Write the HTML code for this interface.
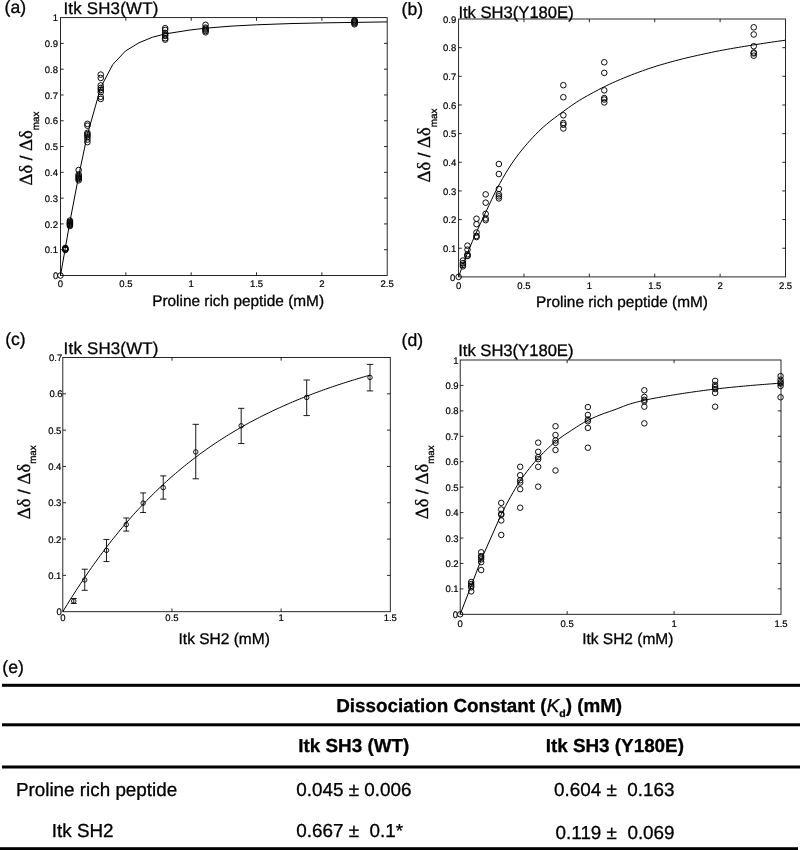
<!DOCTYPE html>
<html><head><meta charset="utf-8"><title>Figure</title>
<style>html,body{margin:0;padding:0;background:#fff}svg{display:block;transform:translateZ(0);will-change:transform}text{font-family:"Liberation Sans", sans-serif}</style></head><body>
<svg width="800" height="850" viewBox="0 0 800 850" text-rendering="geometricPrecision">
<rect width="800" height="850" fill="#fff"/>
<rect x="60.5" y="17.6" width="326.7" height="257.9" fill="none" stroke="#111" stroke-width="0.9"/>
<path d="M125.84 275.5v-3.2M125.84 17.6v3.2M191.18 275.5v-3.2M191.18 17.6v3.2M256.52 275.5v-3.2M256.52 17.6v3.2M321.86 275.5v-3.2M321.86 17.6v3.2M60.5 249.71h3.2M387.2 249.71h-3.2M60.5 223.92h3.2M387.2 223.92h-3.2M60.5 198.13h3.2M387.2 198.13h-3.2M60.5 172.34h3.2M387.2 172.34h-3.2M60.5 146.55h3.2M387.2 146.55h-3.2M60.5 120.76h3.2M387.2 120.76h-3.2M60.5 94.97h3.2M387.2 94.97h-3.2M60.5 69.18h3.2M387.2 69.18h-3.2M60.5 43.39h3.2M387.2 43.39h-3.2" fill="none" stroke="#111" stroke-width="0.9"/>
<g font-family='"Liberation Sans", sans-serif' font-size="9.5" fill="#000" stroke="#000" stroke-width="0.2">
<text x="60.5" y="287.1" text-anchor="middle">0</text>
<text x="125.84" y="287.1" text-anchor="middle">0.5</text>
<text x="191.18" y="287.1" text-anchor="middle">1</text>
<text x="256.52" y="287.1" text-anchor="middle">1.5</text>
<text x="321.86" y="287.1" text-anchor="middle">2</text>
<text x="387.2" y="287.1" text-anchor="middle">2.5</text>
<text x="58.3" y="279.1" text-anchor="end">0</text>
<text x="58" y="253.31" text-anchor="end">0.1</text>
<text x="58" y="227.52" text-anchor="end">0.2</text>
<text x="58" y="201.73" text-anchor="end">0.3</text>
<text x="58" y="175.94" text-anchor="end">0.4</text>
<text x="58" y="150.15" text-anchor="end">0.5</text>
<text x="58" y="124.36" text-anchor="end">0.6</text>
<text x="58" y="98.57" text-anchor="end">0.7</text>
<text x="58" y="72.78" text-anchor="end">0.8</text>
<text x="58" y="46.99" text-anchor="end">0.9</text>
<text x="58" y="21.2" text-anchor="end">1</text>
</g>
<path d="M60.5 275.5 L65.2 248.8 L69.7 222.8 L78.6 176.4 L87.3 135 L100.75 87.3 L112.75 64.5 L125.5 51 L139 42.75 L152.5 37.2 L165.25 33.9 L190 30 L205.6 28.2 L230 26.2 L256.2 24.8 L290 23.6 L321.9 22.9 L354.7 22.4 L387.2 21.9" fill="none" stroke="#000" stroke-width="1" stroke-linejoin="round"/>
<g fill="none" stroke="#000" stroke-width="0.95">
<circle cx="60.5" cy="275.5" r="2.8"/>
<circle cx="65.34" cy="249.97" r="2.8"/>
<circle cx="65.34" cy="249.45" r="2.8"/>
<circle cx="65.34" cy="248.94" r="2.8"/>
<circle cx="65.34" cy="248.42" r="2.8"/>
<circle cx="65.34" cy="247.9" r="2.8"/>
<circle cx="69.91" cy="225.98" r="2.8"/>
<circle cx="69.91" cy="224.95" r="2.8"/>
<circle cx="69.91" cy="224.18" r="2.8"/>
<circle cx="69.91" cy="223.4" r="2.8"/>
<circle cx="69.91" cy="222.63" r="2.8"/>
<circle cx="69.91" cy="221.86" r="2.8"/>
<circle cx="69.91" cy="220.57" r="2.8"/>
<circle cx="78.66" cy="180.33" r="2.8"/>
<circle cx="78.66" cy="179.05" r="2.8"/>
<circle cx="78.66" cy="178.01" r="2.8"/>
<circle cx="78.66" cy="176.98" r="2.8"/>
<circle cx="78.66" cy="175.95" r="2.8"/>
<circle cx="78.66" cy="174.4" r="2.8"/>
<circle cx="78.66" cy="170.02" r="2.8"/>
<circle cx="87.42" cy="142.17" r="2.8"/>
<circle cx="87.42" cy="139.59" r="2.8"/>
<circle cx="87.42" cy="137.27" r="2.8"/>
<circle cx="87.42" cy="135.46" r="2.8"/>
<circle cx="87.42" cy="134.17" r="2.8"/>
<circle cx="87.42" cy="132.88" r="2.8"/>
<circle cx="87.42" cy="125.66" r="2.8"/>
<circle cx="87.42" cy="123.85" r="2.8"/>
<circle cx="100.75" cy="98.94" r="2.8"/>
<circle cx="100.75" cy="96.78" r="2.8"/>
<circle cx="100.75" cy="92.13" r="2.8"/>
<circle cx="100.75" cy="89.94" r="2.8"/>
<circle cx="100.75" cy="88.01" r="2.8"/>
<circle cx="100.75" cy="85.43" r="2.8"/>
<circle cx="100.75" cy="77.95" r="2.8"/>
<circle cx="100.75" cy="74.6" r="2.8"/>
<circle cx="165.17" cy="39.65" r="2.8"/>
<circle cx="165.17" cy="38.23" r="2.8"/>
<circle cx="165.17" cy="35.91" r="2.8"/>
<circle cx="165.17" cy="34.36" r="2.8"/>
<circle cx="165.17" cy="32.92" r="2.8"/>
<circle cx="165.17" cy="29.98" r="2.8"/>
<circle cx="165.17" cy="28.17" r="2.8"/>
<circle cx="205.55" cy="32.3" r="2.8"/>
<circle cx="205.55" cy="31.01" r="2.8"/>
<circle cx="205.55" cy="29.72" r="2.8"/>
<circle cx="205.55" cy="28.69" r="2.8"/>
<circle cx="205.55" cy="27.66" r="2.8"/>
<circle cx="205.55" cy="24.82" r="2.8"/>
<circle cx="354.53" cy="24.31" r="2.8"/>
<circle cx="354.53" cy="23.27" r="2.8"/>
<circle cx="354.53" cy="22.5" r="2.8"/>
<circle cx="354.53" cy="21.73" r="2.8"/>
<circle cx="354.53" cy="20.95" r="2.8"/>
<circle cx="354.53" cy="20.18" r="2.8"/>
</g>
<text x="4.6" y="13.2" font-family='"Liberation Sans", sans-serif' font-size="17.6" font-weight="normal" text-anchor="start" fill="#000" stroke="#000" stroke-width="0.3" stroke-linejoin="round" >(a)</text>
<text x="63.4" y="13.6" font-family='"Liberation Sans", sans-serif' font-size="16.9" font-weight="normal" text-anchor="start" fill="#000" stroke="#000" stroke-width="0.3" stroke-linejoin="round" letter-spacing="0.2">Itk SH3(WT)</text>
<text x="238.1" y="305.6" font-family='"Liberation Sans", sans-serif' font-size="15.4" font-weight="normal" text-anchor="middle" fill="#000" stroke="#000" stroke-width="0.3" stroke-linejoin="round" >Proline rich peptide (mM)</text>
<text transform="translate(32.4 148.6) rotate(-90)" text-anchor="middle" font-size="18.6" fill="#000" stroke="#000" stroke-width="0.3"><tspan font-family='"Liberation Serif", serif'>&#916;&#948;</tspan><tspan font-family='"Liberation Sans", sans-serif' font-size="16.740000000000002"> / </tspan><tspan font-family='"Liberation Serif", serif'>&#916;&#948;</tspan><tspan font-family='"Liberation Sans", sans-serif' font-size="9.8" dy="6.4">max</tspan></text>
<rect x="458.6" y="19" width="326.9" height="257.9" fill="none" stroke="#111" stroke-width="0.9"/>
<path d="M523.98 276.9v-3.2M523.98 19v3.2M589.36 276.9v-3.2M589.36 19v3.2M654.74 276.9v-3.2M654.74 19v3.2M720.12 276.9v-3.2M720.12 19v3.2M458.6 248.24h3.2M785.5 248.24h-3.2M458.6 219.59h3.2M785.5 219.59h-3.2M458.6 190.93h3.2M785.5 190.93h-3.2M458.6 162.28h3.2M785.5 162.28h-3.2M458.6 133.62h3.2M785.5 133.62h-3.2M458.6 104.97h3.2M785.5 104.97h-3.2M458.6 76.31h3.2M785.5 76.31h-3.2M458.6 47.66h3.2M785.5 47.66h-3.2" fill="none" stroke="#111" stroke-width="0.9"/>
<g font-family='"Liberation Sans", sans-serif' font-size="9.5" fill="#000" stroke="#000" stroke-width="0.2">
<text x="458.6" y="288.5" text-anchor="middle">0</text>
<text x="523.98" y="288.5" text-anchor="middle">0.5</text>
<text x="589.36" y="288.5" text-anchor="middle">1</text>
<text x="654.74" y="288.5" text-anchor="middle">1.5</text>
<text x="720.12" y="288.5" text-anchor="middle">2</text>
<text x="785.5" y="288.5" text-anchor="middle">2.5</text>
<text x="455.2" y="280.5" text-anchor="end">0</text>
<text x="456.2" y="251.84" text-anchor="end">0.1</text>
<text x="456.2" y="223.19" text-anchor="end">0.2</text>
<text x="456.2" y="194.53" text-anchor="end">0.3</text>
<text x="456.2" y="165.88" text-anchor="end">0.4</text>
<text x="456.2" y="137.22" text-anchor="end">0.5</text>
<text x="456.2" y="108.57" text-anchor="end">0.6</text>
<text x="456.2" y="79.91" text-anchor="end">0.7</text>
<text x="456.2" y="51.26" text-anchor="end">0.8</text>
<text x="456.2" y="22.6" text-anchor="end">0.9</text>
</g>
<path d="M458.6 276.9 L461.35 269.24 L464.09 261.84 L466.84 254.67 L469.59 247.94 L472.34 241.5 L475.08 235.27 L477.83 229.14 L480.58 223.16 L483.32 217.3 L486.07 211.49 L488.82 205.63 L491.56 199.78 L494.31 194.07 L497.06 188.59 L499.81 183.47 L502.55 178.55 L505.3 173.82 L508.05 169.3 L510.79 165.03 L513.54 161 L516.29 157.19 L519.04 153.56 L521.78 150.09 L524.53 146.76 L527.28 143.56 L530.02 140.45 L532.77 137.45 L535.52 134.56 L538.26 131.79 L541.01 129.16 L543.76 126.68 L546.51 124.32 L549.25 122.06 L552 119.89 L554.75 117.78 L557.49 115.72 L560.24 113.69 L562.99 111.68 L565.74 109.68 L568.48 107.71 L571.23 105.78 L573.98 103.9 L576.72 102.08 L579.47 100.33 L582.22 98.66 L584.96 97.08 L587.71 95.54 L590.46 94.05 L593.21 92.57 L595.95 91.08 L598.7 89.6 L601.45 88.15 L604.19 86.78 L606.94 85.47 L609.69 84.18 L612.44 82.92 L615.18 81.69 L617.93 80.48 L620.68 79.3 L623.42 78.15 L626.17 77.03 L628.92 75.93 L631.66 74.85 L634.41 73.8 L637.16 72.76 L639.91 71.75 L642.65 70.76 L645.4 69.79 L648.15 68.84 L650.89 67.92 L653.64 67.03 L656.39 66.16 L659.14 65.31 L661.88 64.49 L664.63 63.69 L667.38 62.91 L670.12 62.15 L672.87 61.4 L675.62 60.67 L678.36 59.95 L681.11 59.25 L683.86 58.56 L686.61 57.89 L689.35 57.25 L692.1 56.61 L694.85 55.99 L697.59 55.38 L700.34 54.77 L703.09 54.17 L705.84 53.57 L708.58 52.98 L711.33 52.39 L714.08 51.82 L716.82 51.27 L719.57 50.73 L722.32 50.22 L725.06 49.71 L727.81 49.21 L730.56 48.72 L733.31 48.24 L736.05 47.77 L738.8 47.31 L741.55 46.85 L744.29 46.4 L747.04 45.95 L749.79 45.51 L752.54 45.07 L755.28 44.64 L758.03 44.21 L760.78 43.79 L763.52 43.37 L766.27 42.95 L769.02 42.54 L771.76 42.14 L774.51 41.74 L777.26 41.35 L780.01 40.96 L782.75 40.58 L785.5 40.2" fill="none" stroke="#000" stroke-width="1" stroke-linejoin="round"/>
<g fill="none" stroke="#000" stroke-width="0.95">
<circle cx="458.6" cy="276.9" r="2.8"/>
<circle cx="462.92" cy="266.3" r="2.8"/>
<circle cx="462.92" cy="264.86" r="2.8"/>
<circle cx="462.92" cy="263.15" r="2.8"/>
<circle cx="462.92" cy="260.57" r="2.8"/>
<circle cx="467.49" cy="255.98" r="2.8"/>
<circle cx="467.49" cy="255.69" r="2.8"/>
<circle cx="467.49" cy="254.26" r="2.8"/>
<circle cx="467.49" cy="249.68" r="2.8"/>
<circle cx="467.49" cy="245.67" r="2.8"/>
<circle cx="476.51" cy="237.07" r="2.8"/>
<circle cx="476.51" cy="235.92" r="2.8"/>
<circle cx="476.51" cy="232.48" r="2.8"/>
<circle cx="476.51" cy="224.17" r="2.8"/>
<circle cx="476.51" cy="218.73" r="2.8"/>
<circle cx="485.67" cy="220.16" r="2.8"/>
<circle cx="485.67" cy="218.44" r="2.8"/>
<circle cx="485.67" cy="213.86" r="2.8"/>
<circle cx="485.67" cy="202.68" r="2.8"/>
<circle cx="485.67" cy="194.37" r="2.8"/>
<circle cx="498.87" cy="198.38" r="2.8"/>
<circle cx="498.87" cy="196.38" r="2.8"/>
<circle cx="498.87" cy="194.37" r="2.8"/>
<circle cx="498.87" cy="188.93" r="2.8"/>
<circle cx="498.87" cy="174.03" r="2.8"/>
<circle cx="498.87" cy="164" r="2.8"/>
<circle cx="563.34" cy="128.46" r="2.8"/>
<circle cx="563.34" cy="124.74" r="2.8"/>
<circle cx="563.34" cy="123.02" r="2.8"/>
<circle cx="563.34" cy="115.28" r="2.8"/>
<circle cx="563.34" cy="97.23" r="2.8"/>
<circle cx="563.34" cy="85.19" r="2.8"/>
<circle cx="604.27" cy="102.39" r="2.8"/>
<circle cx="604.27" cy="99.52" r="2.8"/>
<circle cx="604.27" cy="98.09" r="2.8"/>
<circle cx="604.27" cy="90.35" r="2.8"/>
<circle cx="604.27" cy="72.87" r="2.8"/>
<circle cx="604.27" cy="62.27" r="2.8"/>
<circle cx="753.73" cy="55.68" r="2.8"/>
<circle cx="753.73" cy="53.39" r="2.8"/>
<circle cx="753.73" cy="52.53" r="2.8"/>
<circle cx="753.73" cy="46.22" r="2.8"/>
<circle cx="753.73" cy="34.47" r="2.8"/>
<circle cx="753.73" cy="27.31" r="2.8"/>
</g>
<text x="401.6" y="14.8" font-family='"Liberation Sans", sans-serif' font-size="17.6" font-weight="normal" text-anchor="start" fill="#000" stroke="#000" stroke-width="0.3" stroke-linejoin="round" >(b)</text>
<text x="458.4" y="18" font-family='"Liberation Sans", sans-serif' font-size="16.6" font-weight="normal" text-anchor="start" fill="#000" stroke="#000" stroke-width="0.3" stroke-linejoin="round" >Itk SH3(Y180E)</text>
<text x="622" y="307" font-family='"Liberation Sans", sans-serif' font-size="15.4" font-weight="normal" text-anchor="middle" fill="#000" stroke="#000" stroke-width="0.3" stroke-linejoin="round" >Proline rich peptide (mM)</text>
<text transform="translate(430.2 145.6) rotate(-90)" text-anchor="middle" font-size="18.6" fill="#000" stroke="#000" stroke-width="0.3"><tspan font-family='"Liberation Serif", serif'>&#916;&#948;</tspan><tspan font-family='"Liberation Sans", sans-serif' font-size="16.740000000000002"> / </tspan><tspan font-family='"Liberation Serif", serif'>&#916;&#948;</tspan><tspan font-family='"Liberation Sans", sans-serif' font-size="9.8" dy="6.4">max</tspan></text>
<rect x="62.8" y="357.5" width="327.5" height="254.2" fill="none" stroke="#111" stroke-width="0.9"/>
<path d="M171.97 611.7v-3.2M171.97 357.5v3.2M281.13 611.7v-3.2M281.13 357.5v3.2M62.8 575.39h3.2M390.3 575.39h-3.2M62.8 539.07h3.2M390.3 539.07h-3.2M62.8 502.76h3.2M390.3 502.76h-3.2M62.8 466.44h3.2M390.3 466.44h-3.2M62.8 430.13h3.2M390.3 430.13h-3.2M62.8 393.81h3.2M390.3 393.81h-3.2" fill="none" stroke="#111" stroke-width="0.9"/>
<g font-family='"Liberation Sans", sans-serif' font-size="9.5" fill="#000" stroke="#000" stroke-width="0.2">
<text x="62.8" y="620.7" text-anchor="middle">0</text>
<text x="171.97" y="620.7" text-anchor="middle">0.5</text>
<text x="281.13" y="620.7" text-anchor="middle">1</text>
<text x="390.3" y="620.7" text-anchor="middle">1.5</text>
<text x="61.7" y="615.3" text-anchor="end">0</text>
<text x="61.4" y="578.99" text-anchor="end">0.1</text>
<text x="61.4" y="542.67" text-anchor="end">0.2</text>
<text x="61.4" y="506.36" text-anchor="end">0.3</text>
<text x="61.4" y="470.04" text-anchor="end">0.4</text>
<text x="61.4" y="433.73" text-anchor="end">0.5</text>
<text x="62.6" y="397.41" text-anchor="end">0.6</text>
<text x="62.2" y="361.1" text-anchor="end">0.7</text>
</g>
<path d="M62.8 611.7 L65.01 608.07 L67.22 604.49 L69.43 600.94 L71.64 597.43 L73.85 593.96 L76.06 590.53 L78.27 587.14 L80.48 583.79 L82.69 580.48 L84.9 577.2 L87.11 573.97 L89.32 570.77 L91.53 567.61 L93.74 564.49 L95.95 561.41 L98.16 558.37 L100.37 555.36 L102.58 552.39 L104.79 549.46 L107 546.57 L109.21 543.71 L111.42 540.89 L113.63 538.1 L115.84 535.35 L118.05 532.64 L120.26 529.96 L122.47 527.32 L124.68 524.71 L126.89 522.13 L129.1 519.59 L131.31 517.08 L133.52 514.61 L135.73 512.17 L137.94 509.76 L140.15 507.38 L142.36 505.04 L144.57 502.73 L146.78 500.45 L148.99 498.2 L151.2 495.98 L153.41 493.79 L155.62 491.63 L157.83 489.5 L160.04 487.4 L162.25 485.32 L164.46 483.28 L166.67 481.26 L168.88 479.28 L171.09 477.31 L173.3 475.38 L175.51 473.47 L177.72 471.59 L179.93 469.74 L182.14 467.91 L184.35 466.1 L186.56 464.32 L188.77 462.57 L190.98 460.84 L193.19 459.13 L195.4 457.45 L197.61 455.79 L199.82 454.15 L202.03 452.53 L204.24 450.94 L206.45 449.37 L208.66 447.82 L210.87 446.29 L213.08 444.78 L215.29 443.29 L217.5 441.82 L219.71 440.38 L221.92 438.95 L224.13 437.54 L226.34 436.15 L228.55 434.78 L230.76 433.42 L232.97 432.09 L235.18 430.77 L237.39 429.47 L239.6 428.19 L241.81 426.92 L244.02 425.68 L246.23 424.44 L248.44 423.23 L250.65 422.03 L252.86 420.84 L255.07 419.67 L257.28 418.52 L259.49 417.38 L261.7 416.26 L263.91 415.15 L266.12 414.05 L268.33 412.97 L270.54 411.9 L272.75 410.85 L274.96 409.8 L277.17 408.78 L279.38 407.76 L281.59 406.76 L283.8 405.77 L286.01 404.79 L288.22 403.83 L290.43 402.87 L292.64 401.93 L294.85 401 L297.06 400.09 L299.27 399.18 L301.48 398.28 L303.69 397.4 L305.9 396.52 L308.11 395.66 L310.32 394.8 L312.53 393.96 L314.74 393.13 L316.95 392.3 L319.16 391.49 L321.37 390.68 L323.58 389.89 L325.79 389.1 L328 388.33 L330.21 387.56 L332.42 386.8 L334.63 386.05 L336.84 385.31 L339.05 384.58 L341.26 383.85 L343.47 383.14 L345.68 382.43 L347.89 381.73 L350.1 381.04 L352.31 380.35 L354.52 379.67 L356.73 379.01 L358.94 378.34 L361.15 377.69 L363.36 377.04 L365.57 376.4 L367.78 375.77 L370 375.14" fill="none" stroke="#000" stroke-width="1" stroke-linejoin="round"/>
<path d="M73.72 598.52V603.46M70.72 598.52h6.0M70.72 603.46h6.0M84.74 569.21V590.27M81.74 569.21h6M81.74 590.27h6M106.47 539.43V561.59M103.47 539.43h6M103.47 561.59h6M126.25 518.01V531.08M123.25 518.01h6M123.25 531.08h6M143.15 492.95V512.56M140.15 492.95h6M140.15 512.56h6M163.23 475.88V499.13M160.23 475.88h6M160.23 499.13h6M195.76 424.32V478.79M192.56 424.32h6.4M192.56 478.79h6.4M241.18 408.34V443.56M237.98 408.34h6.4M237.98 443.56h6.4M306.68 380.01V415.6M303.48 380.01h6.4M303.48 415.6h6.4M370 364.4V390.91M366.8 364.4h6.4M366.8 390.91h6.4" fill="none" stroke="#000" stroke-width="0.9"/>
<g fill="none" stroke="#000" stroke-width="0.9">
<circle cx="73.72" cy="601.06" r="2.25"/>
<circle cx="84.74" cy="579.93" r="2.25"/>
<circle cx="106.47" cy="550.33" r="2.25"/>
<circle cx="126.25" cy="524.55" r="2.25"/>
<circle cx="143.15" cy="503.12" r="2.25"/>
<circle cx="163.23" cy="487.65" r="2.25"/>
<circle cx="195.76" cy="451.92" r="2.25"/>
<circle cx="241.18" cy="425.77" r="2.25"/>
<circle cx="306.68" cy="397.45" r="2.25"/>
<circle cx="370" cy="377.47" r="2.25"/>
</g>
<text x="5.2" y="345.2" font-family='"Liberation Sans", sans-serif' font-size="17.6" font-weight="normal" text-anchor="start" fill="#000" stroke="#000" stroke-width="0.3" stroke-linejoin="round" >(c)</text>
<text x="63.6" y="354" font-family='"Liberation Sans", sans-serif' font-size="16.9" font-weight="normal" text-anchor="start" fill="#000" stroke="#000" stroke-width="0.3" stroke-linejoin="round" letter-spacing="0.2">Itk SH3(WT)</text>
<text x="224.2" y="643.6" font-family='"Liberation Sans", sans-serif' font-size="15.5" font-weight="normal" text-anchor="middle" fill="#000" stroke="#000" stroke-width="0.3" stroke-linejoin="round" >Itk SH2 (mM)</text>
<text transform="translate(29.8 482.3) rotate(-90)" text-anchor="middle" font-size="18.6" fill="#000" stroke="#000" stroke-width="0.3"><tspan font-family='"Liberation Serif", serif'>&#916;&#948;</tspan><tspan font-family='"Liberation Sans", sans-serif' font-size="16.740000000000002"> / </tspan><tspan font-family='"Liberation Serif", serif'>&#916;&#948;</tspan><tspan font-family='"Liberation Sans", sans-serif' font-size="9.8" dy="6.4">max</tspan></text>
<rect x="460.2" y="360" width="320.8" height="254.3" fill="none" stroke="#111" stroke-width="0.9"/>
<path d="M567.13 614.3v-3.2M567.13 360v3.2M674.07 614.3v-3.2M674.07 360v3.2M460.2 588.87h3.2M781 588.87h-3.2M460.2 563.44h3.2M781 563.44h-3.2M460.2 538.01h3.2M781 538.01h-3.2M460.2 512.58h3.2M781 512.58h-3.2M460.2 487.15h3.2M781 487.15h-3.2M460.2 461.72h3.2M781 461.72h-3.2M460.2 436.29h3.2M781 436.29h-3.2M460.2 410.86h3.2M781 410.86h-3.2M460.2 385.43h3.2M781 385.43h-3.2" fill="none" stroke="#111" stroke-width="0.9"/>
<g font-family='"Liberation Sans", sans-serif' font-size="9.5" fill="#000" stroke="#000" stroke-width="0.2">
<text x="460.2" y="626.5" text-anchor="middle">0</text>
<text x="567.13" y="626.5" text-anchor="middle">0.5</text>
<text x="674.07" y="626.5" text-anchor="middle">1</text>
<text x="781" y="626.5" text-anchor="middle">1.5</text>
<text x="458" y="617.9" text-anchor="end">0</text>
<text x="458.6" y="592.47" text-anchor="end">0.1</text>
<text x="458.6" y="567.04" text-anchor="end">0.2</text>
<text x="458.6" y="541.61" text-anchor="end">0.3</text>
<text x="458.6" y="516.18" text-anchor="end">0.4</text>
<text x="458.6" y="490.75" text-anchor="end">0.5</text>
<text x="458.6" y="465.32" text-anchor="end">0.6</text>
<text x="458.6" y="439.89" text-anchor="end">0.7</text>
<text x="458.6" y="414.46" text-anchor="end">0.8</text>
<text x="458.6" y="389.03" text-anchor="end">0.9</text>
<text x="458.6" y="363.6" text-anchor="end">1</text>
</g>
<path d="M460.2 614.3 L471 586.3 L481.1 559.9 L501.2 514.5" fill="none" stroke="#000" stroke-width="1" stroke-linejoin="round"/>
<path d="M501.2 514.5 L503.55 509.85 L505.9 505.34 L508.25 500.96 L510.61 496.72 L512.96 492.58 L515.31 488.54 L517.66 484.67 L520.01 481.04 L522.36 477.63 L524.71 474.42 L527.06 471.34 L529.42 468.37 L531.77 465.49 L534.12 462.71 L536.47 460.04 L538.82 457.47 L541.17 455.02 L543.52 452.65 L545.87 450.35 L548.23 448.07 L550.58 445.8 L552.93 443.63 L555.28 441.62 L557.63 439.78 L559.98 438.05 L562.33 436.39 L564.68 434.8 L567.04 433.25 L569.39 431.7 L571.74 430.15 L574.09 428.6 L576.44 427.06 L578.79 425.55 L581.14 424.09 L583.49 422.69 L585.85 421.37 L588.2 420.15 L590.55 419.01 L592.9 417.95 L595.25 416.93 L597.6 415.96 L599.95 415.02 L602.3 414.11 L604.66 413.25 L607.01 412.41 L609.36 411.6 L611.71 410.78 L614.06 409.94 L616.41 409.07 L618.76 408.16 L621.11 407.23 L623.47 406.31 L625.82 405.42 L628.17 404.59 L630.52 403.84 L632.87 403.15 L635.22 402.5 L637.57 401.88 L639.92 401.29 L642.28 400.73 L644.63 400.21 L646.98 399.7 L649.33 399.22 L651.68 398.75 L654.03 398.3 L656.38 397.86 L658.73 397.44 L661.09 397.02 L663.44 396.61 L665.79 396.21 L668.14 395.81 L670.49 395.42 L672.84 395.03 L675.19 394.65 L677.54 394.27 L679.9 393.9 L682.25 393.54 L684.6 393.19 L686.95 392.84 L689.3 392.5 L691.65 392.16 L694 391.83 L696.35 391.5 L698.71 391.17 L701.06 390.85 L703.41 390.53 L705.76 390.22 L708.11 389.92 L710.46 389.62 L712.81 389.33 L715.16 389.06 L717.52 388.79 L719.87 388.52 L722.22 388.26 L724.57 388.01 L726.92 387.76 L729.27 387.51 L731.62 387.27 L733.97 387.04 L736.33 386.81 L738.68 386.58 L741.03 386.36 L743.38 386.15 L745.73 385.94 L748.08 385.73 L750.43 385.52 L752.78 385.32 L755.14 385.13 L757.49 384.93 L759.84 384.74 L762.19 384.55 L764.54 384.37 L766.89 384.19 L769.24 384.01 L771.59 383.84 L773.95 383.67 L776.3 383.51 L778.65 383.35 L781 383.2" fill="none" stroke="#000" stroke-width="1" stroke-linejoin="round"/>
<g fill="none" stroke="#000" stroke-width="0.95">
<circle cx="460.2" cy="614.3" r="2.75"/>
<circle cx="471.21" cy="591.41" r="2.75"/>
<circle cx="471.21" cy="587.34" r="2.75"/>
<circle cx="471.21" cy="585.82" r="2.75"/>
<circle cx="471.21" cy="584.04" r="2.75"/>
<circle cx="471.21" cy="582" r="2.75"/>
<circle cx="481.16" cy="570.05" r="2.75"/>
<circle cx="481.16" cy="562.17" r="2.75"/>
<circle cx="481.16" cy="559.37" r="2.75"/>
<circle cx="481.16" cy="557.59" r="2.75"/>
<circle cx="481.16" cy="556.07" r="2.75"/>
<circle cx="481.16" cy="552.25" r="2.75"/>
<circle cx="501.26" cy="534.96" r="2.75"/>
<circle cx="501.26" cy="520.46" r="2.75"/>
<circle cx="501.26" cy="514.87" r="2.75"/>
<circle cx="501.26" cy="513.85" r="2.75"/>
<circle cx="501.26" cy="509.53" r="2.75"/>
<circle cx="501.26" cy="502.92" r="2.75"/>
<circle cx="520.19" cy="507.75" r="2.75"/>
<circle cx="520.19" cy="489.18" r="2.75"/>
<circle cx="520.19" cy="482.57" r="2.75"/>
<circle cx="520.19" cy="480.28" r="2.75"/>
<circle cx="520.19" cy="475.2" r="2.75"/>
<circle cx="520.19" cy="466.81" r="2.75"/>
<circle cx="538.2" cy="486.64" r="2.75"/>
<circle cx="538.2" cy="466.81" r="2.75"/>
<circle cx="538.2" cy="459.18" r="2.75"/>
<circle cx="538.2" cy="457.14" r="2.75"/>
<circle cx="538.2" cy="451.8" r="2.75"/>
<circle cx="538.2" cy="442.65" r="2.75"/>
<circle cx="555.5" cy="470.47" r="2.75"/>
<circle cx="555.5" cy="450.02" r="2.75"/>
<circle cx="555.5" cy="442.9" r="2.75"/>
<circle cx="555.5" cy="440.46" r="2.75"/>
<circle cx="555.5" cy="435.02" r="2.75"/>
<circle cx="555.5" cy="426.22" r="2.75"/>
<circle cx="587.88" cy="447.73" r="2.75"/>
<circle cx="587.88" cy="427.9" r="2.75"/>
<circle cx="587.88" cy="421.29" r="2.75"/>
<circle cx="587.88" cy="419.51" r="2.75"/>
<circle cx="587.88" cy="414.93" r="2.75"/>
<circle cx="587.88" cy="407.05" r="2.75"/>
<circle cx="644.34" cy="423.37" r="2.75"/>
<circle cx="644.34" cy="406.69" r="2.75"/>
<circle cx="644.34" cy="401.45" r="2.75"/>
<circle cx="644.34" cy="399.8" r="2.75"/>
<circle cx="644.34" cy="396.87" r="2.75"/>
<circle cx="644.34" cy="390.26" r="2.75"/>
<circle cx="715.13" cy="406.69" r="2.75"/>
<circle cx="715.13" cy="392.88" r="2.75"/>
<circle cx="715.13" cy="389.09" r="2.75"/>
<circle cx="715.13" cy="387.08" r="2.75"/>
<circle cx="715.13" cy="384.92" r="2.75"/>
<circle cx="715.13" cy="380.85" r="2.75"/>
<circle cx="780.57" cy="397.28" r="2.75"/>
<circle cx="780.57" cy="385.99" r="2.75"/>
<circle cx="780.57" cy="383.57" r="2.75"/>
<circle cx="780.57" cy="382.17" r="2.75"/>
<circle cx="780.57" cy="379.68" r="2.75"/>
<circle cx="780.57" cy="376.1" r="2.75"/>
</g>
<text x="401.6" y="345.5" font-family='"Liberation Sans", sans-serif' font-size="17.6" font-weight="normal" text-anchor="start" fill="#000" stroke="#000" stroke-width="0.3" stroke-linejoin="round" >(d)</text>
<text x="458.2" y="356.3" font-family='"Liberation Sans", sans-serif' font-size="16.6" font-weight="normal" text-anchor="start" fill="#000" stroke="#000" stroke-width="0.3" stroke-linejoin="round" >Itk SH3(Y180E)</text>
<text x="627.8" y="644.3" font-family='"Liberation Sans", sans-serif' font-size="15.5" font-weight="normal" text-anchor="middle" fill="#000" stroke="#000" stroke-width="0.3" stroke-linejoin="round" >Itk SH2 (mM)</text>
<text transform="translate(427.7 482.3) rotate(-90)" text-anchor="middle" font-size="18.6" fill="#000" stroke="#000" stroke-width="0.3"><tspan font-family='"Liberation Serif", serif'>&#916;&#948;</tspan><tspan font-family='"Liberation Sans", sans-serif' font-size="16.740000000000002"> / </tspan><tspan font-family='"Liberation Serif", serif'>&#916;&#948;</tspan><tspan font-family='"Liberation Sans", sans-serif' font-size="9.8" dy="6.4">max</tspan></text>
<text x="2.3" y="673.2" font-family='"Liberation Sans", sans-serif' font-size="17.6" font-weight="normal" text-anchor="start" fill="#000" stroke="#000" stroke-width="0.3" stroke-linejoin="round" >(e)</text>
<g fill="#000">
<rect x="2" y="683.8" width="798" height="3"/>
<rect x="2" y="723.3" width="798" height="3"/>
<rect x="2" y="765.5" width="798" height="3"/>
<rect x="0" y="847.2" width="798" height="3"/>
</g>
<text x="336.2" y="712.0" font-family='"Liberation Sans", sans-serif' font-size="18.85" font-weight="bold" fill="#000" stroke="#000" stroke-width="0.3">Dissociation Constant (<tspan font-style="italic" font-weight="normal">K</tspan><tspan font-size="10.5" dy="5">d</tspan><tspan dy="-5">) (mM)</tspan></text>
<text x="298.3" y="752.3" font-family='"Liberation Sans", sans-serif' font-size="18.85" font-weight="bold" text-anchor="start" fill="#000" stroke="#000" stroke-width="0.3" stroke-linejoin="round" >Itk SH3 (WT)</text>
<text x="545.7" y="752.3" font-family='"Liberation Sans", sans-serif' font-size="18.85" font-weight="bold" text-anchor="start" fill="#000" stroke="#000" stroke-width="0.3" stroke-linejoin="round" >Itk SH3 (Y180E)</text>
<text x="15.9" y="796.4" font-family='"Liberation Sans", sans-serif' font-size="18.85" font-weight="normal" text-anchor="start" fill="#000" stroke="#000" stroke-width="0.3" stroke-linejoin="round" >Proline rich peptide</text>
<text x="51.8" y="836.9" font-family='"Liberation Sans", sans-serif' font-size="18.85" font-weight="normal" text-anchor="start" fill="#000" stroke="#000" stroke-width="0.3" stroke-linejoin="round" >Itk SH2</text>
<text x="296.3" y="796.3" font-family='"Liberation Sans", sans-serif' font-size="18.85" font-weight="normal" text-anchor="start" fill="#000" stroke="#000" stroke-width="0.3" stroke-linejoin="round" >0.045 &#177; 0.006</text>
<text x="296.3" y="837.3" font-family='"Liberation Sans", sans-serif' font-size="18.85" font-weight="normal" text-anchor="start" fill="#000" stroke="#000" stroke-width="0.3" stroke-linejoin="round" xml:space="preserve">0.667 &#177;&#160; 0.1*</text>
<text x="554.1" y="796.1" font-family='"Liberation Sans", sans-serif' font-size="18.85" font-weight="normal" text-anchor="start" fill="#000" stroke="#000" stroke-width="0.3" stroke-linejoin="round" xml:space="preserve">0.604 &#177;&#160; 0.163</text>
<text x="555.6" y="838.5" font-family='"Liberation Sans", sans-serif' font-size="18.85" font-weight="normal" text-anchor="start" fill="#000" stroke="#000" stroke-width="0.3" stroke-linejoin="round" xml:space="preserve">0.119 &#177;&#160; 0.069</text>
</svg></body></html>
